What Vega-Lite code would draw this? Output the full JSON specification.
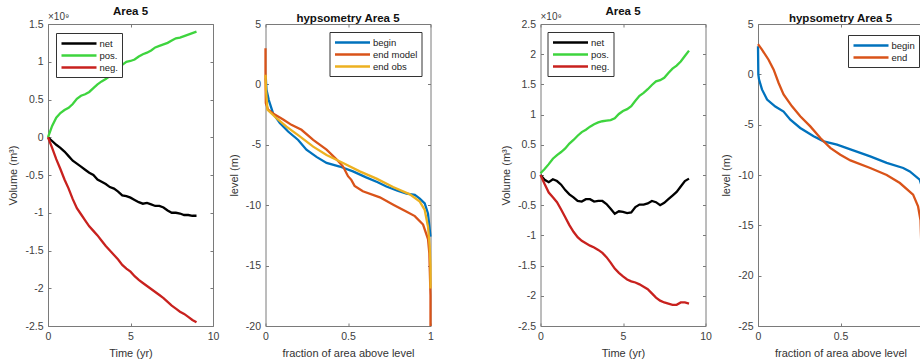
{
"$schema": "https://vega.github.io/schema/vega-lite/v6.json",
"padding": {"left": 7, "top": 5, "right": 0, "bottom": 0},
"background": "white",
"config": {
 "font": "Liberation Sans",
 "view": {"stroke": "#7a7a7a", "strokeWidth": 1},
 "axis": {"grid": false, "domain": false, "tickColor": "#7a7a7a", "tickSize": -3, "labelColor": "#404040", "labelFontSize": 10.5, "labelPadding": 8, "titleColor": "#333333", "titleFontSize": 11, "titleFontWeight": "normal", "titlePadding": 6, "labelFlush": false, "labelOverlap": false},
 "title": {"fontSize": 11.5, "fontWeight": "bold", "color": "#111111", "offset": -5, "anchor": "middle", "frame": "group"},
 "legend": {"orient": "none", "symbolType": "M-3.5,0H3.5", "symbolStrokeWidth": 2.5, "symbolSize": 100, "symbolOffset": 12.5, "labelOffset": 14, "strokeColor": "#333333", "fillColor": "white", "padding": 4, "labelFontSize": 9.5, "labelColor": "#222222", "rowPadding": 0}
},
"datasets": {
 "vol1": [
  {"t":0,"net":0,"pos":0,"neg":0},
  {"t":0.25,"net":-0.05,"pos":0.15,"neg":-0.14},
  {"t":0.5,"net":-0.10,"pos":0.26,"neg":-0.29},
  {"t":0.75,"net":-0.14,"pos":0.32,"neg":-0.42},
  {"t":1,"net":-0.19,"pos":0.36,"neg":-0.56},
  {"t":1.25,"net":-0.25,"pos":0.39,"neg":-0.68},
  {"t":1.5,"net":-0.31,"pos":0.44,"neg":-0.82},
  {"t":1.75,"net":-0.35,"pos":0.51,"neg":-0.94},
  {"t":2,"net":-0.39,"pos":0.55,"neg":-1.02},
  {"t":2.25,"net":-0.43,"pos":0.57,"neg":-1.10},
  {"t":2.5,"net":-0.47,"pos":0.60,"neg":-1.18},
  {"t":2.75,"net":-0.50,"pos":0.65,"neg":-1.24},
  {"t":3,"net":-0.56,"pos":0.70,"neg":-1.30},
  {"t":3.25,"net":-0.59,"pos":0.74,"neg":-1.37},
  {"t":3.5,"net":-0.62,"pos":0.77,"neg":-1.44},
  {"t":3.75,"net":-0.66,"pos":0.81,"neg":-1.50},
  {"t":4,"net":-0.68,"pos":0.85,"neg":-1.56},
  {"t":4.25,"net":-0.72,"pos":0.90,"neg":-1.62},
  {"t":4.5,"net":-0.77,"pos":0.96,"neg":-1.69},
  {"t":4.75,"net":-0.78,"pos":1.00,"neg":-1.74},
  {"t":5,"net":-0.80,"pos":1.01,"neg":-1.78},
  {"t":5.25,"net":-0.83,"pos":1.03,"neg":-1.84},
  {"t":5.5,"net":-0.86,"pos":1.07,"neg":-1.89},
  {"t":5.75,"net":-0.88,"pos":1.10,"neg":-1.93},
  {"t":6,"net":-0.87,"pos":1.12,"neg":-1.97},
  {"t":6.25,"net":-0.89,"pos":1.15,"neg":-2.01},
  {"t":6.5,"net":-0.91,"pos":1.19,"neg":-2.05},
  {"t":6.75,"net":-0.91,"pos":1.21,"neg":-2.09},
  {"t":7,"net":-0.93,"pos":1.23,"neg":-2.13},
  {"t":7.25,"net":-0.97,"pos":1.25,"neg":-2.18},
  {"t":7.5,"net":-1.00,"pos":1.28,"neg":-2.23},
  {"t":7.75,"net":-1.00,"pos":1.31,"neg":-2.27},
  {"t":8,"net":-1.01,"pos":1.32,"neg":-2.31},
  {"t":8.25,"net":-1.03,"pos":1.34,"neg":-2.34},
  {"t":8.5,"net":-1.03,"pos":1.36,"neg":-2.38},
  {"t":8.75,"net":-1.04,"pos":1.38,"neg":-2.42},
  {"t":9,"net":-1.04,"pos":1.40,"neg":-2.45}
 ],
 "vol2": [
  {"t":0,"net":0,"pos":0.03,"neg":0},
  {"t":0.25,"net":-0.08,"pos":0.10,"neg":-0.15},
  {"t":0.5,"net":-0.12,"pos":0.18,"neg":-0.29},
  {"t":0.75,"net":-0.07,"pos":0.27,"neg":-0.37},
  {"t":1,"net":-0.10,"pos":0.33,"neg":-0.45},
  {"t":1.25,"net":-0.16,"pos":0.38,"neg":-0.57},
  {"t":1.5,"net":-0.25,"pos":0.44,"neg":-0.70},
  {"t":1.75,"net":-0.32,"pos":0.52,"neg":-0.83},
  {"t":2,"net":-0.37,"pos":0.58,"neg":-0.94},
  {"t":2.25,"net":-0.43,"pos":0.65,"neg":-1.03},
  {"t":2.5,"net":-0.44,"pos":0.71,"neg":-1.09},
  {"t":2.75,"net":-0.40,"pos":0.75,"neg":-1.13},
  {"t":3,"net":-0.40,"pos":0.80,"neg":-1.17},
  {"t":3.25,"net":-0.44,"pos":0.84,"neg":-1.20},
  {"t":3.5,"net":-0.43,"pos":0.87,"neg":-1.24},
  {"t":3.75,"net":-0.43,"pos":0.89,"neg":-1.29},
  {"t":4,"net":-0.48,"pos":0.90,"neg":-1.36},
  {"t":4.25,"net":-0.56,"pos":0.91,"neg":-1.45},
  {"t":4.5,"net":-0.64,"pos":0.94,"neg":-1.55},
  {"t":4.75,"net":-0.60,"pos":1.01,"neg":-1.62},
  {"t":5,"net":-0.61,"pos":1.06,"neg":-1.68},
  {"t":5.25,"net":-0.63,"pos":1.09,"neg":-1.73},
  {"t":5.5,"net":-0.62,"pos":1.14,"neg":-1.76},
  {"t":5.75,"net":-0.53,"pos":1.23,"neg":-1.78},
  {"t":6,"net":-0.49,"pos":1.31,"neg":-1.81},
  {"t":6.25,"net":-0.49,"pos":1.36,"neg":-1.85},
  {"t":6.5,"net":-0.47,"pos":1.42,"neg":-1.89},
  {"t":6.75,"net":-0.43,"pos":1.49,"neg":-1.96},
  {"t":7,"net":-0.45,"pos":1.55,"neg":-2.03},
  {"t":7.25,"net":-0.50,"pos":1.57,"neg":-2.08},
  {"t":7.5,"net":-0.46,"pos":1.61,"neg":-2.11},
  {"t":7.75,"net":-0.40,"pos":1.69,"neg":-2.13},
  {"t":8,"net":-0.34,"pos":1.76,"neg":-2.15},
  {"t":8.25,"net":-0.28,"pos":1.81,"neg":-2.15},
  {"t":8.5,"net":-0.19,"pos":1.88,"neg":-2.11},
  {"t":8.75,"net":-0.10,"pos":1.97,"neg":-2.11},
  {"t":9,"net":-0.06,"pos":2.06,"neg":-2.13}
 ],
 "hyp1": [
  {"s":"begin","f":0.002,"z":0.5},{"s":"begin","f":0.006,"z":-0.45},{"s":"begin","f":0.02,"z":-1.3},{"s":"begin","f":0.046,"z":-2.4},{"s":"begin","f":0.087,"z":-3.2},{"s":"begin","f":0.137,"z":-3.9},{"s":"begin","f":0.198,"z":-4.6},{"s":"begin","f":0.248,"z":-5.4},{"s":"begin","f":0.309,"z":-6.0},{"s":"begin","f":0.37,"z":-6.5},{"s":"begin","f":0.45,"z":-6.8},{"s":"begin","f":0.53,"z":-7.2},{"s":"begin","f":0.61,"z":-7.7},{"s":"begin","f":0.68,"z":-8.1},{"s":"begin","f":0.733,"z":-8.45},{"s":"begin","f":0.80,"z":-8.8},{"s":"begin","f":0.855,"z":-9.05},{"s":"begin","f":0.905,"z":-9.15},{"s":"begin","f":0.935,"z":-9.45},{"s":"begin","f":0.965,"z":-9.85},{"s":"begin","f":0.985,"z":-10.7},{"s":"begin","f":0.996,"z":-12.1},{"s":"begin","f":1.0,"z":-12.6},
  {"s":"end model","f":0,"z":3.0},{"s":"end model","f":0,"z":1.0},{"s":"end model","f":0.002,"z":-1.55},{"s":"end model","f":0.016,"z":-2.1},{"s":"end model","f":0.056,"z":-2.5},{"s":"end model","f":0.107,"z":-2.9},{"s":"end model","f":0.157,"z":-3.35},{"s":"end model","f":0.218,"z":-3.76},{"s":"end model","f":0.289,"z":-4.6},{"s":"end model","f":0.37,"z":-5.4},{"s":"end model","f":0.43,"z":-6.2},{"s":"end model","f":0.47,"z":-6.8},{"s":"end model","f":0.50,"z":-7.6},{"s":"end model","f":0.52,"z":-7.9},{"s":"end model","f":0.54,"z":-8.4},{"s":"end model","f":0.59,"z":-8.85},{"s":"end model","f":0.693,"z":-9.35},{"s":"end model","f":0.78,"z":-10.0},{"s":"end model","f":0.85,"z":-10.5},{"s":"end model","f":0.905,"z":-10.9},{"s":"end model","f":0.955,"z":-11.6},{"s":"end model","f":0.985,"z":-12.8},{"s":"end model","f":0.993,"z":-14.0},{"s":"end model","f":0.996,"z":-15.5},{"s":"end model","f":1.0,"z":-17.5},{"s":"end model","f":1.0,"z":-20},
  {"s":"end obs","f":0,"z":0.8},{"s":"end obs","f":0.003,"z":-0.45},{"s":"end obs","f":0.012,"z":-2.1},{"s":"end obs","f":0.067,"z":-2.8},{"s":"end obs","f":0.127,"z":-3.5},{"s":"end obs","f":0.208,"z":-4.3},{"s":"end obs","f":0.289,"z":-5.15},{"s":"end obs","f":0.37,"z":-5.84},{"s":"end obs","f":0.47,"z":-6.5},{"s":"end obs","f":0.571,"z":-7.2},{"s":"end obs","f":0.673,"z":-7.8},{"s":"end obs","f":0.773,"z":-8.5},{"s":"end obs","f":0.875,"z":-9.1},{"s":"end obs","f":0.935,"z":-9.7},{"s":"end obs","f":0.965,"z":-10.4},{"s":"end obs","f":0.985,"z":-11.8},{"s":"end obs","f":0.995,"z":-13.4},{"s":"end obs","f":1.0,"z":-15.1},{"s":"end obs","f":1.0,"z":-16.9}
 ],
 "hyp2": [
  {"s":"begin","f":0,"z":2.8},{"s":"begin","f":0.002,"z":0},{"s":"begin","f":0.006,"z":-0.5},{"s":"begin","f":0.024,"z":-1.5},{"s":"begin","f":0.055,"z":-2.5},{"s":"begin","f":0.105,"z":-3.2},{"s":"begin","f":0.155,"z":-3.7},{"s":"begin","f":0.196,"z":-4.5},{"s":"begin","f":0.256,"z":-5.33},{"s":"begin","f":0.337,"z":-6.16},{"s":"begin","f":0.398,"z":-6.66},{"s":"begin","f":0.479,"z":-6.99},{"s":"begin","f":0.56,"z":-7.45},{"s":"begin","f":0.68,"z":-8.15},{"s":"begin","f":0.78,"z":-8.8},{"s":"begin","f":0.88,"z":-9.3},{"s":"begin","f":0.92,"z":-9.64},{"s":"begin","f":0.98,"z":-10.46},{"s":"begin","f":0.99,"z":-11.0},{"s":"begin","f":0.995,"z":-11.8},{"s":"begin","f":1.0,"z":-12.5},
  {"s":"end","f":0,"z":3.0},{"s":"end","f":0.024,"z":2.45},{"s":"end","f":0.064,"z":1.45},{"s":"end","f":0.095,"z":0.46},{"s":"end","f":0.125,"z":-0.86},{"s":"end","f":0.155,"z":-2.0},{"s":"end","f":0.206,"z":-3.18},{"s":"end","f":0.256,"z":-4.17},{"s":"end","f":0.317,"z":-5.17},{"s":"end","f":0.378,"z":-6.32},{"s":"end","f":0.438,"z":-7.31},{"s":"end","f":0.499,"z":-7.98},{"s":"end","f":0.56,"z":-8.55},{"s":"end","f":0.68,"z":-9.3},{"s":"end","f":0.78,"z":-10.0},{"s":"end","f":0.86,"z":-10.8},{"s":"end","f":0.94,"z":-11.95},{"s":"end","f":0.97,"z":-13.1},{"s":"end","f":0.985,"z":-14.5},{"s":"end","f":0.99,"z":-17},{"s":"end","f":0.993,"z":-21}
 ]
},
"spacing": 52.5,
"bounds": "flush",
"resolve": {"scale": {"color": "independent"}, "legend": {"color": "independent"}},
"hconcat": [
 {
  "width": 165, "height": 302,
  "title": "Area 5",
  "resolve": {"axis": {"x": "independent", "y": "independent"}},
  "layer": [
   {"data": {"name": "vol1"},
    "transform": [{"fold": ["net", "pos", "neg"], "as": ["s", "v"]}],
    "mark": {"type": "line", "strokeWidth": 2.3},
    "encoding": {
     "x": {"field": "t", "type": "quantitative", "scale": {"domain": [0, 10], "nice": false}, "axis": {"orient": "bottom", "values": [0, 5, 10], "title": "Time (yr)"}},
     "y": {"field": "v", "type": "quantitative", "scale": {"domain": [-2.5, 1.5], "nice": false, "zero": false}, "axis": {"orient": "left", "values": [-2.5, -2, -1.5, -1, -0.5, 0, 0.5, 1, 1.5], "labelExpr": "'' + datum.value", "title": "Volume (m³)"}},
     "color": {"field": "s", "type": "nominal", "scale": {"domain": ["net", "pos", "neg"], "range": ["#000000", "#3ed43e", "#c8211e"]}, "legend": {"title": null, "legendX": 8, "legendY": 9, "labelExpr": "datum.label == 'net' ? 'net' : datum.label + '.'"}}
    }},
   {"data": {"values": [{"lab": "×10⁹"}]},
    "mark": {"type": "text", "align": "left", "baseline": "bottom", "dy": -2, "fontSize": 10, "color": "#404040"},
    "encoding": {
     "x": {"datum": 0, "type": "quantitative", "axis": {"orient": "top", "labels": false, "title": null, "values": [0, 5, 10]}},
     "y": {"datum": 1.5, "type": "quantitative", "axis": {"orient": "right", "labels": false, "title": null, "values": [-2.5, -2, -1.5, -1, -0.5, 0, 0.5, 1, 1.5]}},
     "text": {"field": "lab"}
    }}
  ]
 },
 {
  "width": 165, "height": 302,
  "title": "hypsometry Area 5",
  "data": {"name": "hyp1"},
  "resolve": {"axis": {"x": "independent", "y": "independent"}},
  "layer": [
   {"mark": {"type": "line", "strokeWidth": 2.3},
    "encoding": {
     "x": {"field": "f", "type": "quantitative", "scale": {"domain": [0, 1], "nice": false}, "axis": {"orient": "bottom", "values": [0, 0.5, 1], "labelExpr": "'' + datum.value", "title": "fraction of area above level"}},
     "y": {"field": "z", "type": "quantitative", "scale": {"domain": [-20, 5], "nice": false}, "axis": {"orient": "left", "values": [-20, -15, -10, -5, 0, 5], "labelExpr": "'' + datum.value", "title": "level (m)"}},
     "color": {"field": "s", "type": "nominal", "scale": {"domain": ["begin", "end model", "end obs"], "range": ["#0072BD", "#D95319", "#EDB120"]}, "legend": {"title": null, "legendX": 64, "legendY": 8}},
     "order": {"field": "z", "sort": "descending"}
    }},
   {"mark": {"type": "point", "opacity": 0},
    "encoding": {
     "x": {"datum": 0, "type": "quantitative", "axis": {"orient": "top", "labels": false, "title": null, "values": [0, 0.5, 1]}},
     "y": {"datum": 0, "type": "quantitative", "axis": {"orient": "right", "labels": false, "title": null, "values": [-20, -15, -10, -5, 0, 5]}}
    }}
  ]
 },
 {
  "width": 5, "height": 302,
  "data": {"values": [{}]},
  "mark": {"type": "point", "opacity": 0},
  "encoding": {},
  "view": {"stroke": null}
 },
 {
  "width": 165, "height": 302,
  "title": "Area 5",
  "resolve": {"axis": {"x": "independent", "y": "independent"}},
  "layer": [
   {"data": {"name": "vol2"},
    "transform": [{"fold": ["net", "pos", "neg"], "as": ["s", "v"]}],
    "mark": {"type": "line", "strokeWidth": 2.3},
    "encoding": {
     "x": {"field": "t", "type": "quantitative", "scale": {"domain": [0, 10], "nice": false}, "axis": {"orient": "bottom", "values": [0, 5, 10], "title": "Time (yr)"}},
     "y": {"field": "v", "type": "quantitative", "scale": {"domain": [-2.5, 2.5], "nice": false, "zero": false}, "axis": {"orient": "left", "values": [-2.5, -2, -1.5, -1, -0.5, 0, 0.5, 1, 1.5, 2, 2.5], "labelExpr": "'' + datum.value", "title": "Volume (m³)"}},
     "color": {"field": "s", "type": "nominal", "scale": {"domain": ["net", "pos", "neg"], "range": ["#000000", "#3ed43e", "#c8211e"]}, "legend": {"title": null, "legendX": 7, "legendY": 8, "labelExpr": "datum.label == 'net' ? 'net' : datum.label + '.'"}}
    }},
   {"data": {"values": [{"lab": "×10⁹"}]},
    "mark": {"type": "text", "align": "left", "baseline": "bottom", "dy": -2, "fontSize": 10, "color": "#404040"},
    "encoding": {
     "x": {"datum": 0, "type": "quantitative", "axis": {"orient": "top", "labels": false, "title": null, "values": [0, 5, 10]}},
     "y": {"datum": 2.5, "type": "quantitative", "axis": {"orient": "right", "labels": false, "title": null, "values": [-2.5, -2, -1.5, -1, -0.5, 0, 0.5, 1, 1.5, 2, 2.5]}},
     "text": {"field": "lab"}
    }}
  ]
 },
 {
  "width": 165, "height": 302,
  "title": "hypsometry Area 5",
  "data": {"name": "hyp2"},
  "resolve": {"axis": {"x": "independent", "y": "independent"}},
  "layer": [
   {"mark": {"type": "line", "strokeWidth": 2.3},
    "encoding": {
     "x": {"field": "f", "type": "quantitative", "scale": {"domain": [0, 1], "nice": false}, "axis": {"orient": "bottom", "values": [0, 0.5, 1], "labelExpr": "'' + datum.value", "title": "fraction of area above level"}},
     "y": {"field": "z", "type": "quantitative", "scale": {"domain": [-25, 5], "nice": false}, "axis": {"orient": "left", "values": [-25, -20, -15, -10, -5, 0, 5], "labelExpr": "'' + datum.value", "title": "level (m)"}},
     "color": {"field": "s", "type": "nominal", "scale": {"domain": ["begin", "end"], "range": ["#0072BD", "#D95319"]}, "legend": {"title": null, "legendX": 90, "legendY": 11}},
     "order": {"field": "z", "sort": "descending"}
    }},
   {"mark": {"type": "point", "opacity": 0},
    "encoding": {
     "x": {"datum": 0, "type": "quantitative", "axis": {"orient": "top", "labels": false, "title": null, "values": [0, 0.5, 1]}},
     "y": {"datum": 0, "type": "quantitative", "axis": {"orient": "right", "labels": false, "title": null, "values": [-25, -20, -15, -10, -5, 0, 5]}}
    }}
  ]
 }
]
}
